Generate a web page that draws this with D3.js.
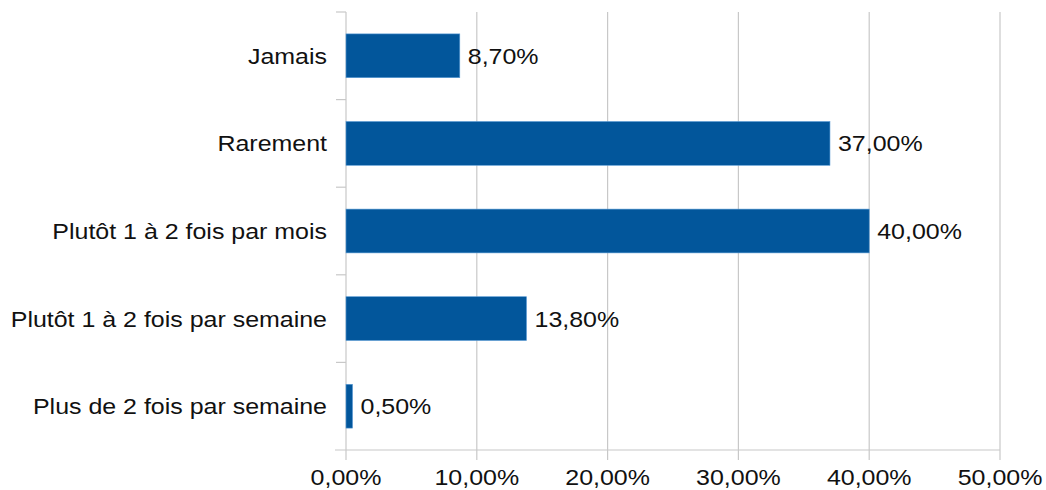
<!DOCTYPE html>
<html><head><meta charset="utf-8">
<script src="https://cdn.jsdelivr.net/npm/d3@7"></script>
<style>body{margin:0;background:#fff}svg{display:block}text{font-family:"Liberation Sans",Arial,sans-serif;fill:#111}</style>
</head><body><svg id="c" width="1046" height="490"></svg>
<script>
const categories = ["Jamais","Rarement","Plutôt 1 à 2 fois par mois","Plutôt 1 à 2 fois par semaine","Plus de 2 fois par semaine"];
const values = [8.7, 37.0, 40.0, 13.8, 0.5];
const xTicks = [0,10,20,30,40,50];

const svg = d3.select("#c");
const m = {left:346, right:1000, top:12, bottom:450};
const x = d3.scaleLinear().domain([0,50]).range([m.left, m.right]);
const y = d3.scaleBand().domain(categories).range([m.top, m.bottom]).paddingInner(0.5).paddingOuter(0.25);
const fmt = v => d3.format(".2f")(v).replace(".", ",") + "%";
const SX = 1.135, FS = "22px";
const tr = (tx, ty) => `translate(${tx},${ty}) scale(${SX},1)`;

// grid
svg.append("g").selectAll("line").data(xTicks.slice(1)).join("line")
  .attr("x1", d=>x(d)).attr("x2", d=>x(d)).attr("y1", m.top).attr("y2", m.bottom+10)
  .attr("stroke", "#c8c8c8").attr("stroke-width", 1.2);

// axes lines
svg.append("line").attr("x1", m.left-11).attr("x2", m.right).attr("y1", m.bottom).attr("y2", m.bottom)
  .attr("stroke", "#c8c8c8").attr("stroke-width", 1.2);
svg.append("line").attr("x1", m.left).attr("x2", m.left).attr("y1", m.top).attr("y2", m.bottom+10)
  .attr("stroke", "#c8c8c8").attr("stroke-width", 1.2);
// y category boundary ticks
const bounds = d3.range(categories.length).map(i => m.top + i*((m.bottom-m.top)/categories.length));
svg.append("g").selectAll("line").data(bounds).join("line")
  .attr("x1", m.left-10).attr("x2", m.left).attr("y1", d=>d).attr("y2", d=>d)
  .attr("stroke", "#c8c8c8").attr("stroke-width", 1.2);

// x tick labels
svg.append("g").selectAll("text").data(xTicks).join("text")
  .attr("transform", d=>tr(x(d), 485)).attr("text-anchor","middle")
  .style("font-size",FS).text(d=>fmt(d));

// bars
svg.append("g").selectAll("rect").data(values).join("rect")
  .attr("x", x(0)).attr("y", (d,i)=>y(categories[i]))
  .attr("width", d=>x(d)-x(0)).attr("height", y.bandwidth())
  .attr("fill", "#02569b").attr("stroke","#5b9bd5").attr("stroke-width",0.6);

// value labels
svg.append("g").selectAll("text").data(values).join("text")
  .attr("transform", (d,i)=>tr(x(d)+8, y(categories[i])+y.bandwidth()/2+8))
  .style("font-size",FS).text(d=>fmt(d));

// category labels
svg.append("g").selectAll("text").data(categories).join("text")
  .attr("transform", d=>tr(327, y(d)+y.bandwidth()/2+8)).attr("text-anchor","end")
  .style("font-size",FS).text(d=>d);
</script></body></html>
